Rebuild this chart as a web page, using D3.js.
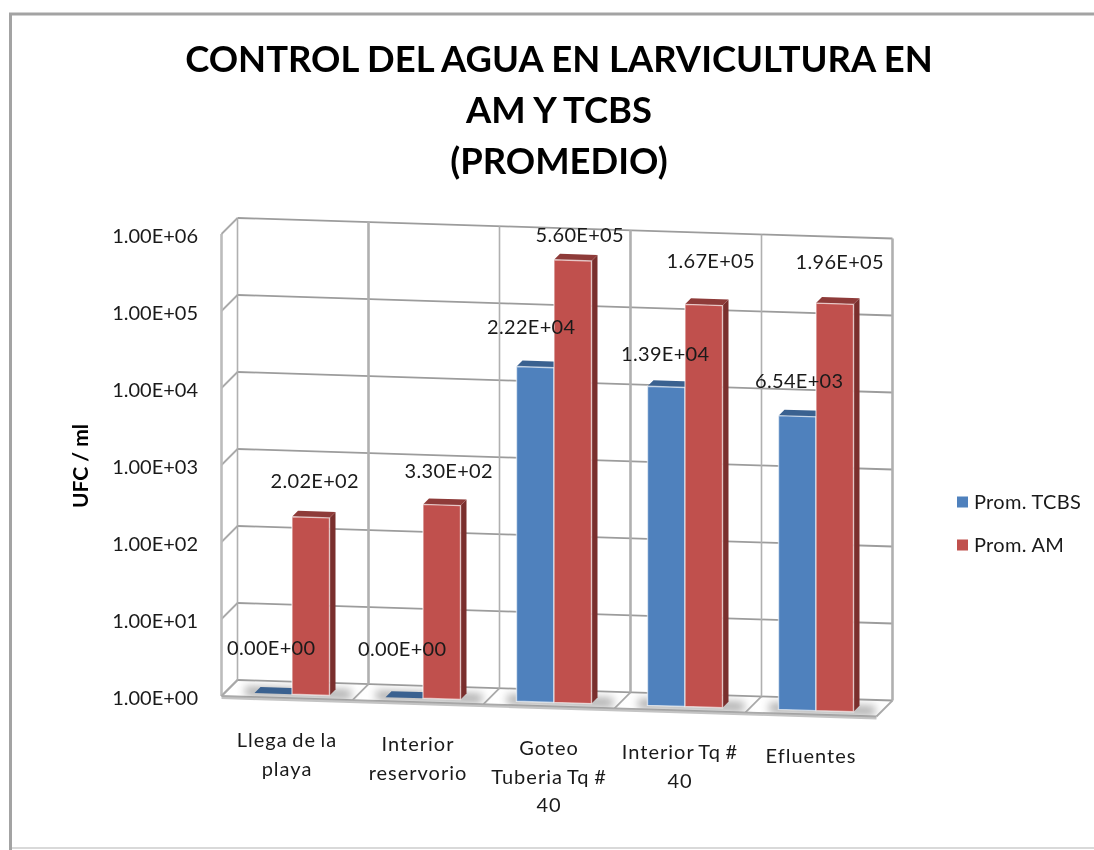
<!DOCTYPE html>
<html>
<head>
<meta charset="utf-8">
<script src="https://cdn.jsdelivr.net/npm/d3@7"></script>
<style>
  html, body { margin: 0; padding: 0; background: #fff; }
  svg { display: block; filter: blur(0.45px); }
  text { font-family: Lato, "Open Sans", sans-serif; fill: #1a1a1a; }
</style>
</head>
<body>
<script>
// data
var categories = ["Llega de la playa", "Interior reservorio", "Goteo Tuberia Tq # 40", "Interior Tq # 40", "Efluentes"];
var categoryLines = [["Llega de la", "playa"], ["Interior", "reservorio"], ["Goteo", "Tuberia Tq #", "40"], ["Interior Tq #", "40"], ["Efluentes"]];
var seriesNames = ["Prom. TCBS", "Prom. AM"];
var promTCBS = [0, 0, 22200, 13900, 6540];
var promAM = [202, 330, 560000, 167000, 196000];
var yTicks = [1, 10, 100, 1000, 10000, 100000, 1000000];
var titleLines = ["CONTROL DEL AGUA EN LARVICULTURA EN", "AM Y TCBS", "(PROMEDIO)"];

var w = 1094, h = 850;
var colors = { front: ["#4f81bd", "#c0504d"], top: ["#3a6190", "#8e3b39"], side: ["#2f5078", "#7a2f2d"] };

var svg = d3.select("body").append("svg").attr("width", w).attr("height", h);
var defs = svg.append("defs");
defs.append("filter").attr("id", "soft").attr("x", "-30%").attr("y", "-100%").attr("width", "160%").attr("height", "300%")
    .append("feGaussianBlur").attr("stdDeviation", 4);

// chart frame
svg.append("path").attr("d", "M10.5,850V14H1094").attr("fill", "none").attr("stroke", "#a3a3a3").attr("stroke-width", 3);
svg.append("line").attr("x1", 12).attr("x2", w).attr("y1", 848).attr("y2", 848).attr("stroke", "#d9d9d9").attr("stroke-width", 2);

// scales
var wallLeft = 237.5, wallRight = 892.5, wallBase = 680, slope = 0.0313;
var depthX = -16, depthY = 16;
var x = d3.scaleBand().domain(categories).range([wallLeft, wallRight]);
var xSeries = d3.scaleBand().domain(seriesNames).range([17, 92]);
var y = d3.scaleLog().domain([1, 1000000]).range([462, 0]).clamp(true);

function skew(px) { return slope * (px - wallLeft); }
function lift(v) { return y(1) - y(v); }
// point on the back wall
function back(px, v) { return [px, wallBase + skew(px) - lift(v)]; }
// same point pulled to the front edge of the floor
function front(px, v) { return [px + depthX, wallBase + skew(px) - lift(v) + depthY]; }
function poly(pts) { return "M" + pts.map(function (p) { return p.join(","); }).join("L") + "Z"; }

var wallEdges = x.domain().map(function (c) { return x(c); }).concat([wallRight]);
var gridColor = "#a9a9a9";

// floor
var floor = svg.append("g");
var floorPts = [back(wallLeft, 1), back(wallRight, 1), front(wallRight, 1), front(wallLeft, 1)];
floor.append("path").attr("d", poly(floorPts)).attr("fill", "#fff");
floor.append("path")
    .attr("d", poly([front(wallLeft, 1), front(wallRight, 1), [front(wallRight, 1)[0], front(wallRight, 1)[1] + 3], [front(wallLeft, 1)[0], front(wallLeft, 1)[1] + 3]]))
    .attr("fill", "#c4c4c4");

// grid on the back wall and left side wall
var grid = svg.append("g").attr("stroke", gridColor).attr("fill", "none");
grid.selectAll(".h").data(yTicks).enter().append("line")
    .attr("x1", wallLeft).attr("x2", wallRight)
    .attr("y1", function (d) { return back(wallLeft, d)[1]; })
    .attr("y2", function (d) { return back(wallRight, d)[1]; })
    .attr("stroke-width", 1.8).attr("stroke", "#9c9c9c");
grid.selectAll(".v").data(wallEdges).enter().append("line")
    .attr("x1", function (d) { return d; }).attr("x2", function (d) { return d; })
    .attr("y1", function (d) { return back(d, 1000000)[1]; })
    .attr("y2", function (d) { return back(d, 1)[1]; })
    .attr("stroke-width", function (d, i) { return i == 1 || i == 3 || i == 5 ? 2.6 : 1.6; })
    .attr("stroke", "#b0b0b0");
grid.selectAll(".s").data(yTicks).enter().append("line")
    .attr("x1", wallLeft).attr("x2", wallLeft + depthX)
    .attr("y1", function (d) { return back(wallLeft, d)[1]; })
    .attr("y2", function (d) { return front(wallLeft, d)[1]; })
    .attr("stroke-width", 1.8);
grid.append("line")
    .attr("x1", wallLeft + depthX).attr("x2", wallLeft + depthX)
    .attr("y1", front(wallLeft, 1000000)[1]).attr("y2", front(wallLeft, 1)[1])
    .attr("stroke-width", 2.6).attr("stroke", "#bcbcbc");
grid.selectAll(".f").data(wallEdges).enter().append("line")
    .attr("x1", function (d) { return d; }).attr("x2", function (d) { return d + depthX; })
    .attr("y1", function (d) { return back(d, 1)[1]; })
    .attr("y2", function (d) { return front(d, 1)[1]; })
    .attr("stroke-width", 1.8);
grid.append("line")
    .attr("x1", wallLeft + depthX).attr("x2", wallRight + depthX)
    .attr("y1", front(wallLeft, 1)[1]).attr("y2", front(wallRight, 1)[1])
    .attr("stroke-width", 1.8);

// y axis
var yAxis = d3.axisLeft(y).tickValues(yTicks).tickSize(0).tickPadding(0)
    .tickFormat(function (d) { return sci(d); });
var axisG = svg.append("g").attr("transform", "translate(198,236)").call(yAxis);
axisG.select(".domain").remove();
axisG.selectAll("text").attr("font-size", 20).attr("font-family", "Lato").attr("fill", "#1a1a1a");

function sci(v) {
    var parts = v.toExponential(2).split("e");
    var e = parseInt(parts[1], 10);
    return parts[0] + "E" + (e < 0 ? "-" : "+") + (Math.abs(e) < 10 ? "0" : "") + Math.abs(e);
}

// bars
var barDepth = 6, baseDrop = 12.5;
var bars = [];
categories.forEach(function (c, i) {
    bars.push({ cat: c, i: i, s: 0, v: promTCBS[i] });
    bars.push({ cat: c, i: i, s: 1, v: promAM[i] });
});
function barX(d) { return x(d.cat) + xSeries(seriesNames[d.s]); }
function barBase(d) { return wallBase + skew(barX(d)) + baseDrop; }

// soft shadow on the floor
var floorClip = defs.append("clipPath").attr("id", "floorclip");
floorClip.append("path").attr("d", poly(floorPts));
svg.append("g").attr("clip-path", "url(#floorclip)")
    .selectAll("rect").data(categories).enter().append("rect")
    .attr("x", function (c) { return x(c) + 8; })
    .attr("width", 106)
    .attr("y", function (c) { return wallBase + skew(x(c) + 60) + 6; })
    .attr("height", 10)
    .attr("fill", "#8c8c8c")
    .attr("fill-opacity", 0.7)
    .attr("transform", function (c) { return "rotate(1.8 " + (x(c) + 60) + " " + (wallBase + skew(x(c) + 60)) + ")"; })
    .attr("filter", "url(#soft)");

var barG = svg.selectAll(".bar").data(bars).enter().append("g").attr("class", "bar");
var bw = xSeries.bandwidth();
barG.append("path") // side
    .attr("d", function (d) {
        var x1 = barX(d) + bw, b = barBase(d) + 1.2, t = b - lift(d.v);
        return poly([[x1, t], [x1 + barDepth, t - barDepth], [x1 + barDepth, b - barDepth], [x1, b]]);
    })
    .attr("fill", function (d) { return colors.side[d.s]; });
barG.append("path") // top
    .attr("d", function (d) {
        var x0 = barX(d), x1 = x0 + bw, b = barBase(d), t = b - lift(d.v);
        return poly([[x0, t], [x1, t + 1.2], [x1 + barDepth, t + 1.2 - barDepth], [x0 + barDepth, t - barDepth]]);
    })
    .attr("fill", function (d) { return colors.top[d.s]; });
barG.filter(function (d) { return d.v > 0; }).append("path") // front
    .attr("d", function (d) {
        var x0 = barX(d), x1 = x0 + bw, b = barBase(d), t = b - lift(d.v);
        return poly([[x0, t], [x1, t + 1.2], [x1, b + 1.2], [x0, b]]);
    })
    .attr("fill", function (d) { return colors.front[d.s]; })
    .attr("stroke", "#ffffff").attr("stroke-opacity", 0.6).attr("stroke-width", 1.4);

// data labels, they sit at uneven heights over the bars in the original
var labelNudge = [[-45, -36], [-48, -33], [-40, -25], [-32, -43], [-35, -41]];
var labelShift = [[-2, 4], [-2, 7], [-4, 7], [-1, 7], [2, 5]];
svg.selectAll(".val").data(bars).enter().append("text")
    .attr("class", "val")
    .attr("x", function (d) { return barX(d) + bw / 2 + labelShift[d.i][d.s]; })
    .attr("y", function (d) { return barBase(d) - lift(d.v) + labelNudge[d.i][d.s]; })
    .attr("dy", "0.35em")
    .attr("text-anchor", "middle")
    .attr("font-size", 20)
    .attr("letter-spacing", 0.3)
    .text(function (d) { return sci(d.v); });

// category labels, they follow the tilt of the floor
var catG = svg.selectAll(".cat").data(categories).enter().append("text")
    .attr("class", "cat")
    .attr("text-anchor", "middle")
    .attr("font-size", 20)
    .attr("letter-spacing", 1)
    .attr("word-spacing", -1.5);
catG.selectAll("tspan").data(function (c, i) {
        return categoryLines[i].map(function (t, k) { return { c: c, t: t, k: k }; });
    }).enter().append("tspan")
    .attr("x", function (d) { return x(d.c) + x.bandwidth() / 2 + depthX; })
    .attr("y", function (d) { return 747 + skew(x(d.c)) + d.k * 28.5; })
    .text(function (d) { return d.t; });

// axis title
svg.append("text")
    .attr("transform", "translate(88,466) rotate(-90)")
    .attr("text-anchor", "middle")
    .attr("font-size", 21).attr("font-weight", 700)
    .style("fill", "#000")
    .text("UFC / ml");

// title
svg.selectAll(".title").data(titleLines).enter().append("text")
    .attr("class", "title")
    .attr("x", 559)
    .attr("y", function (d, i) { return 72 + i * 51; })
    .attr("text-anchor", "middle")
    .attr("font-size", 36.4).attr("font-weight", 700)
    .style("fill", "#000")
    .text(function (d) { return d; });

// legend
var legY = d3.scalePoint().domain(seriesNames).range([502, 545]);
var leg = svg.selectAll(".leg").data(seriesNames).enter().append("g").attr("class", "leg")
    .attr("transform", function (d) { return "translate(957," + legY(d) + ")"; });
leg.append("rect").attr("y", -5.5).attr("width", 11).attr("height", 11)
    .attr("fill", function (d, i) { return colors.front[i]; });
leg.append("text").attr("x", 17).attr("dy", "0.35em").attr("font-size", 20).attr("letter-spacing", 0.3)
    .text(function (d) { return d; });
</script>
</body>
</html>
